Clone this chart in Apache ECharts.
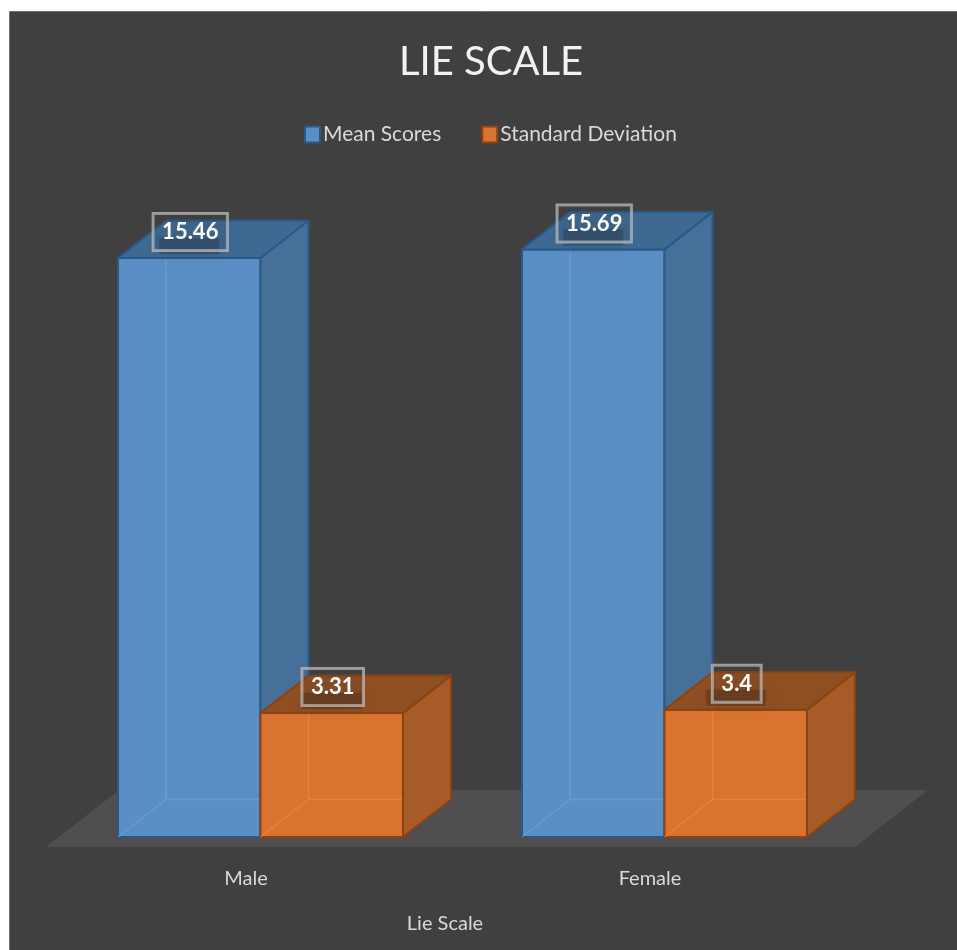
<!DOCTYPE html>
<html>
<head>
<meta charset="utf-8">
<script src="https://cdn.jsdelivr.net/npm/echarts@6/dist/echarts.min.js"></script>
<style>
html,body{margin:0;padding:0;background:#ffffff;}
#chart{width:957px;height:950px;}
</style>
</head>
<body>
<div id="chart"></div>
<script>
const categories = ['Male', 'Female'];
const meanScores = [15.46, 15.69];
const stdDeviation = [3.31, 3.4];
const seriesNames = ['Mean Scores', 'Standard Deviation'];
const axisTitle = 'Lie Scale';
const chartTitle = 'LIE SCALE';

const FONT = 'Lato, "Open Sans", sans-serif';
const DX = 48, DY = 37.5;       // 3D depth offset (px)
const BAR_RATIO = 0.3527;       // bar width / category band

const palettes = [
  { front: '#5a8fc5', top: '#3e6993', side: '#46709a', edge: '#2b5987', hidden: 'rgba(110,165,222,0.55)' },
  { front: '#d8742f', top: '#904f23', side: '#a75b27', edge: '#8a4312', hidden: 'rgba(240,140,70,0.55)' }
];

function makeRender(sIdx) {
  const p = palettes[sIdx];
  return function (params, api) {
    const cat = api.value(0);
    const val = api.value(1);
    const base = api.coord([cat, 0]);
    const topPt = api.coord([cat, val]);
    const band = api.size([1, 0])[0];
    const w = band * BAR_RATIO;
    const x0 = sIdx === 0 ? base[0] - w : base[0];
    const x1 = x0 + w;
    const yb = base[1];
    const yt = topPt[1];
    const lw = 2;
    const cx = (x0 + x1) / 2;
    const label = String(val);
    return {
      type: 'group',
      children: [
        { type: 'rect', shape: { x: x0, y: yt, width: w, height: yb - yt },
          style: { fill: p.front, stroke: p.edge, lineWidth: lw } },
        { type: 'line', shape: { x1: x0 + DX, y1: yt - DY, x2: x0 + DX, y2: yb - DY },
          style: { stroke: p.hidden, lineWidth: 1.5 } },
        { type: 'line', shape: { x1: x0 + DX, y1: yb - DY, x2: x1 + DX, y2: yb - DY },
          style: { stroke: p.hidden, lineWidth: 1.5 } },
        { type: 'line', shape: { x1: x0, y1: yb, x2: x0 + DX, y2: yb - DY },
          style: { stroke: p.hidden, lineWidth: 1.5 } },
        { type: 'polygon', shape: { points: [[x1, yt], [x1 + DX, yt - DY], [x1 + DX, yb - DY], [x1, yb]] },
          style: { fill: p.side, stroke: p.edge, lineWidth: lw, lineJoin: 'round' } },
        { type: 'polygon', shape: { points: [[x0, yt], [x1, yt], [x1 + DX, yt - DY], [x0 + DX, yt - DY]] },
          style: { fill: p.top, stroke: p.edge, lineWidth: lw, lineJoin: 'round' } },
        { type: 'rect', shape: { x: cx - 30, y: yt - 20, width: 60, height: 16 },
          style: { fill: 'rgba(20,20,20,0.22)', shadowBlur: 16, shadowColor: 'rgba(0,0,0,0.45)' } },
        { type: 'text', x: cx + 1, y: yt - 26,
          style: { text: label, fill: '#ffffff', font: 'bold 22px ' + FONT,
            align: 'center', verticalAlign: 'middle',
            backgroundColor: 'rgba(60,60,60,0.10)', borderColor: 'rgba(200,200,200,0.7)',
            borderWidth: 1.5, padding: [8, 9, 7, 9] } }
      ]
    };
  };
}

function renderFloor(params, api) {
  const cs = params.coordSys;
  const yf = cs.y + cs.height + 10;
  const xl = cs.x - 12.5, xr = cs.x + cs.width - 11.5;
  const fdx = 73, fdy = 57;
  return {
    type: 'polygon',
    shape: { points: [[xl, yf], [xr, yf], [xr + fdx, yf - fdy], [xl + fdx, yf - fdy]] },
    style: { fill: '#504e4f' }
  };
}

const chart = echarts.init(document.getElementById('chart'), null, { renderer: 'canvas' });
chart.setOption({
  backgroundColor: '#ffffff',
  animation: false,
  graphic: [{
    type: 'rect', z: -10, silent: true,
    shape: { x: 9.5, y: 11.5, width: 960, height: 950 },
    style: { fill: '#404040', stroke: '#707070', lineWidth: 1 }
  }],
  title: {
    text: chartTitle, left: 399, top: 42, padding: 0,
    textStyle: { color: '#f2f2f2', fontFamily: FONT, fontWeight: 'normal', fontSize: 40 }
  },
  legend: {
    data: [
      { name: seriesNames[0], icon: 'rect', itemStyle: { color: palettes[0].front, borderColor: palettes[0].edge, borderWidth: 2 } },
      { name: seriesNames[1], icon: 'rect', itemStyle: { color: palettes[1].front, borderColor: palettes[1].edge, borderWidth: 2 } }
    ],
    left: 299, top: 119, itemWidth: 15, itemHeight: 16, itemGap: 40,
    textStyle: { color: '#d9d9d9', fontFamily: FONT, fontSize: 21, padding: [0, 0, 0, -2] }
  },
  grid: { left: 58.5, right: 90.5, top: 88, bottom: 113 },
  xAxis: {
    type: 'category', data: categories,
    axisLine: { show: false }, axisTick: { show: false }, splitLine: { show: false },
    axisLabel: { color: '#d9d9d9', fontFamily: FONT, fontSize: 20, margin: 32, padding: [0, 29, 0, 0] },
    name: axisTitle, nameLocation: 'middle', nameGap: 77,
    nameTextStyle: { color: '#d9d9d9', fontFamily: FONT, fontSize: 20, padding: [0, 35, 0, 0] }
  },
  yAxis: { type: 'value', min: 0, max: 20, show: false },
  series: [
    { type: 'custom', name: 'floor', silent: true, z: 1, renderItem: renderFloor,
      data: [[0, 0]], encode: { x: 0, y: 1 } },
    { type: 'custom', name: seriesNames[0], z: 2, renderItem: makeRender(0),
      itemStyle: { color: palettes[0].front },
      data: categories.map((c, i) => [i, meanScores[i]]), encode: { x: 0, y: 1 } },
    { type: 'custom', name: seriesNames[1], z: 3, renderItem: makeRender(1),
      itemStyle: { color: palettes[1].front },
      data: categories.map((c, i) => [i, stdDeviation[i]]), encode: { x: 0, y: 1 } }
  ]
});
</script>
</body>
</html>
